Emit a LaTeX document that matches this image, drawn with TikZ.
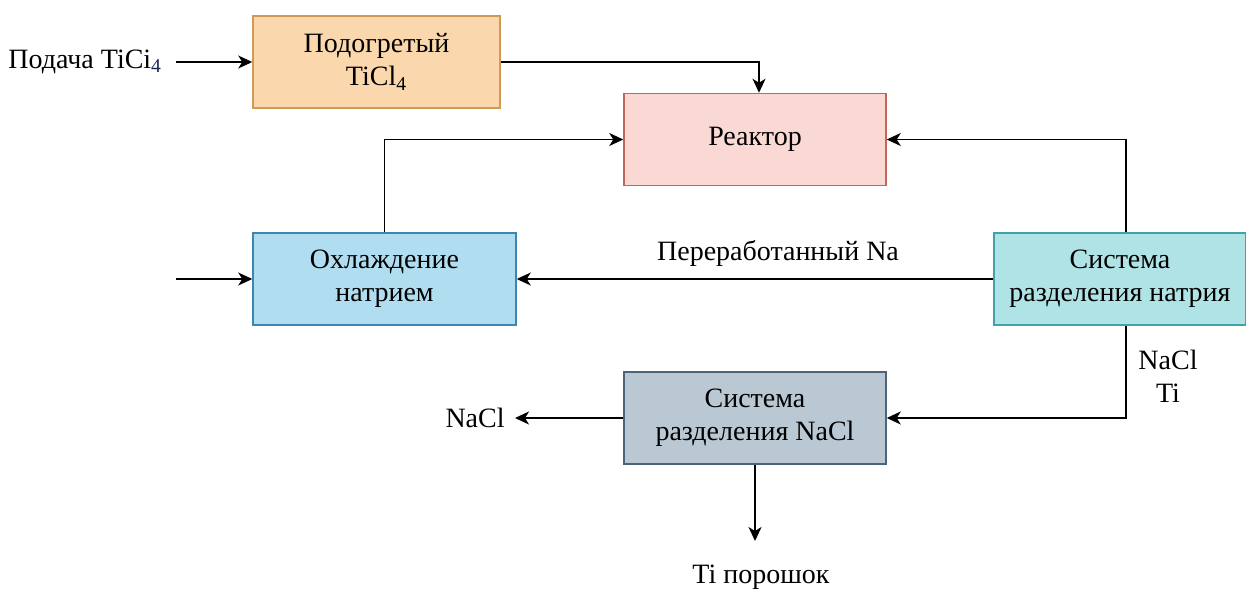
\documentclass[tikz,border=0pt]{standalone}
\usepackage{fontspec}
\setmainfont{Liberation Serif}
\usetikzlibrary{arrows.meta}
\definecolor{orF}{HTML}{FAD7AC}\definecolor{orD}{HTML}{D09A55}
\definecolor{reF}{HTML}{FAD9D5}\definecolor{reD}{HTML}{C0665A}
\definecolor{blF}{HTML}{B1DDF0}\definecolor{blD}{HTML}{3C87B0}
\definecolor{tqF}{HTML}{B0E3E6}\definecolor{tqD}{HTML}{3FA3A8}
\definecolor{grF}{HTML}{BAC8D3}\definecolor{grD}{HTML}{4D6478}
\definecolor{navy}{HTML}{1A2350}
\begin{document}
\begin{tikzpicture}[x=0.5pt,y=-0.5pt,
  font=\fontsize{14}{16.5}\selectfont,
  box/.style={draw, line width=0.75pt, minimum width=#1, minimum height=46pt, align=center, inner sep=0pt},
  arr/.style={line width=0.75pt, -{Stealth[length=7pt,width=6.5pt,inset=2pt]}},
  lbl/.style={inner sep=0pt, align=center}]
\useasboundingbox (0,0) rectangle (1246,590);
\node[box=123.5pt, fill=orF, draw=orD] (heat) at (376.5,62) {Подогретый\\TiCl\textsubscript{4}};
\node[box=131pt, fill=reF, draw=reD] (reac) at (755,139.5) {Реактор};
\node[box=131.5pt, fill=blF, draw=blD] (cool) at (384.5,279) {Охлаждение\\натрием};
\node[box=126pt, fill=tqF, draw=tqD] (nasep) at (1120,279) {Система\\разделения натрия};
\node[box=131pt, fill=grF, draw=grD] (nacl) at (755,418) {Система\\разделения NaCl};
\node[lbl, anchor=west] (feed) at (8,62) {Подача TiCi\textsubscript{\color{navy}4}};
\coordinate (feedend) at (176,62);
\coordinate (cin) at (176,279);
\node[lbl, anchor=east] (naclout) at (505,418) {NaCl};
\coordinate (naclend) at (515,418);
\node[lbl] (ti) at (761,577) {Ti порошок};
\coordinate (tiend) at (755,541);
\node[lbl] (na) at (778,253) {Переработанный Na};
\node[lbl] (mix) at (1168,376) {NaCl\\Ti};
\draw[arr] (feedend) -- (heat.west);
\draw[arr] (heat.east) -| (reac.north -| 759,0);
\draw[arr] (cool.north) |- (reac.west);
\draw[arr] (nasep.north -| 1126,0) |- (reac.east);
\draw[arr] (cin) -- (cool.west);
\draw[arr] (nasep.west) -- (cool.east);
\draw[arr] (nasep.south -| 1126,0) |- (nacl.east);
\draw[arr] (nacl.west) -- (naclend);
\draw[arr] (nacl.south) -- (tiend);
\end{tikzpicture}
\end{document}
